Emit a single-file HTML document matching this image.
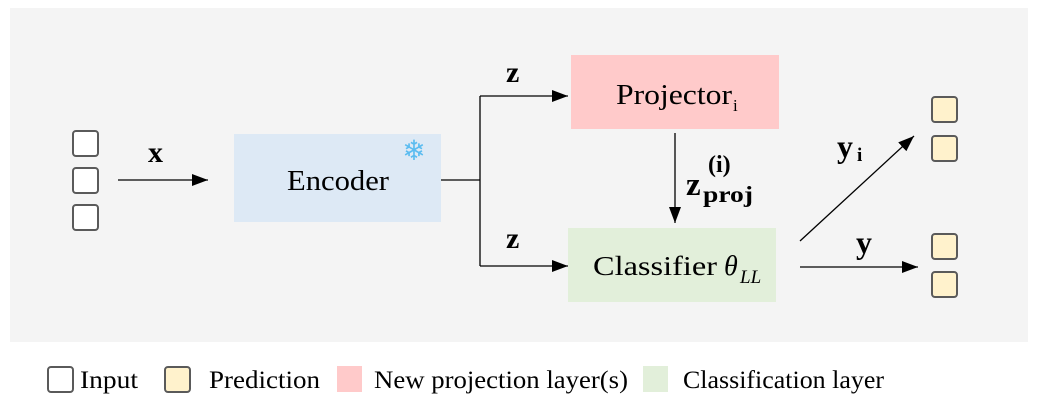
<!DOCTYPE html>
<html><head><meta charset="utf-8"><style>
html,body{margin:0;padding:0;background:#fff;width:1037px;height:404px;overflow:hidden}
svg{display:block}
text{font-family:"Liberation Serif","DejaVu Serif",serif;fill:#000}
</style></head><body>
<svg width="1037" height="404" viewBox="0 0 1037 404" xmlns="http://www.w3.org/2000/svg">
<defs>
<marker id="b" viewBox="0 0 16 12" markerWidth="16" markerHeight="12" refX="16" refY="6" orient="auto" markerUnits="userSpaceOnUse"><path d="M0,0 L16,6 L0,12 z"/></marker></defs>
<rect x="10" y="8" width="1018" height="334" fill="#f4f4f4"/>
<g fill="#fff" stroke="#5a5a5a" stroke-width="2">
<rect x="73" y="131" width="25" height="25" rx="3"/>
<rect x="73" y="168" width="25" height="25" rx="3"/>
<rect x="73" y="205" width="25" height="25" rx="3"/>
</g>
<g fill="#fff2cc" stroke="#5a5a5a" stroke-width="2">
<rect x="932" y="97" width="25" height="25" rx="3"/>
<rect x="932" y="136" width="25" height="25" rx="3"/>
<rect x="932" y="234" width="25" height="25" rx="3"/>
<rect x="932" y="272" width="25" height="25" rx="3"/>
</g>
<rect x="234" y="134" width="207" height="88" fill="#dde9f5"/>
<rect x="571" y="55" width="208" height="74" fill="#ffcaca"/>
<rect x="568" y="228" width="208" height="74" fill="#e2efda"/>
<text x="287" y="190" font-size="28" textLength="102" lengthAdjust="spacingAndGlyphs">Encoder</text>
<text x="414" y="160" font-size="28" style="fill:#5bbcf0" text-anchor="middle">❄</text>
<text x="616" y="104" font-size="28" textLength="116" lengthAdjust="spacingAndGlyphs">Projector</text>
<text x="733" y="111" font-size="17">i</text>
<text x="593" y="275" font-size="27" textLength="124" lengthAdjust="spacingAndGlyphs">Classifier</text>
<text x="724" y="275" font-size="28" font-style="italic">θ</text>
<text x="740" y="283" font-size="19" font-style="italic">LL</text>
<g stroke="#000" stroke-width="1.3" fill="none">
<line x1="118" y1="180" x2="208" y2="180" marker-end="url(#b)"/>
<polyline points="441,180 480,180"/>
<line x1="480" y1="96" x2="480" y2="266"/>
<line x1="480" y1="96" x2="568" y2="96" marker-end="url(#b)"/>
<line x1="480" y1="266" x2="568" y2="266" marker-end="url(#b)"/>
<line x1="675" y1="133" x2="675" y2="223" marker-end="url(#b)"/>
<line x1="800" y1="267" x2="918" y2="267" marker-end="url(#b)"/>
<line x1="800" y1="241" x2="914" y2="136" marker-end="url(#b)"/>
</g>
<g font-weight="bold">
<text x="148" y="162" font-size="30">x</text>
<text x="506" y="82" font-size="30">z</text>
<text x="506" y="248" font-size="30">z</text>
<text x="686" y="195" font-size="33">z</text>
<text x="708" y="172" font-size="24">(i)</text>
<text x="703" y="202" font-size="23" textLength="50" lengthAdjust="spacingAndGlyphs">proj</text>
<text x="837" y="157" font-size="32">y</text>
<text x="857" y="161" font-size="19">i</text>
<text x="856" y="253" font-size="32">y</text>
</g>
<rect x="48" y="367" width="25" height="25" rx="3" fill="#fff" stroke="#5a5a5a" stroke-width="2"/>
<text x="80" y="388" font-size="25" textLength="58" lengthAdjust="spacingAndGlyphs">Input</text>
<rect x="165" y="367" width="25" height="25" rx="3" fill="#fff2cc" stroke="#5a5a5a" stroke-width="2"/>
<text x="209" y="388" font-size="25" textLength="111" lengthAdjust="spacingAndGlyphs">Prediction</text>
<rect x="337" y="366" width="25" height="26" fill="#ffcaca"/>
<text x="374" y="388" font-size="25" textLength="254" lengthAdjust="spacingAndGlyphs">New projection layer(s)</text>
<rect x="643" y="366" width="25" height="26" fill="#e2efda"/>
<text x="683" y="388" font-size="25" textLength="201" lengthAdjust="spacingAndGlyphs">Classification layer</text>
</svg>
</body></html>
